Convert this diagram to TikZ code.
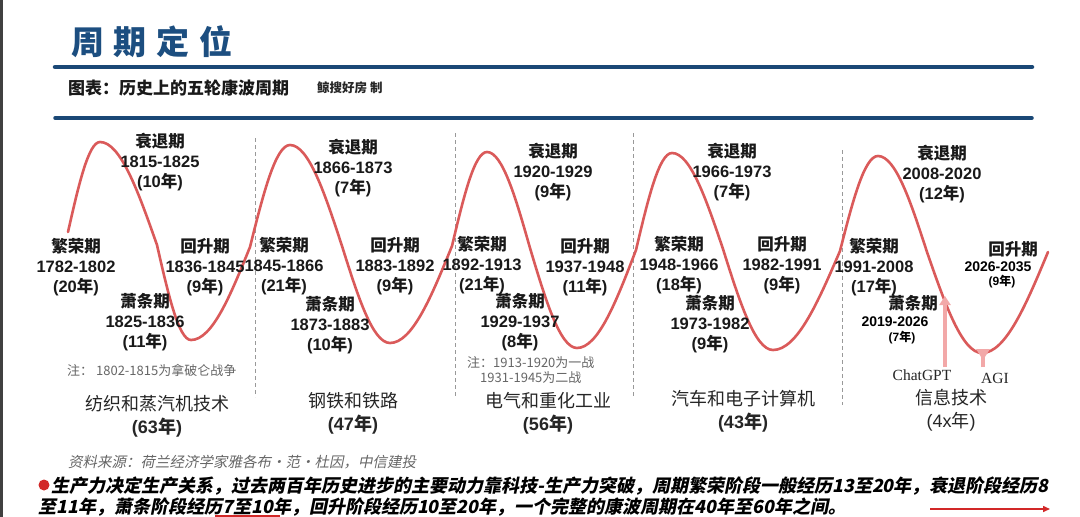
\documentclass[tikz,border=0pt]{standalone}
\usepackage{fontspec}
\setmainfont{Liberation Sans}
\newfontfamily\cjk{Noto Sans CJK SC}
\newfontfamily\cjkit[FakeSlant=0.2]{Noto Sans CJK SC}
\newfontfamily\serifrm{Liberation Serif}
\usetikzlibrary{arrows.meta}
\definecolor{titleblue}{RGB}{28,78,128}
\definecolor{lineblue}{RGB}{26,72,118}
\definecolor{wavered}{RGB}{218,90,90}
\definecolor{pinkc}{RGB}{242,168,168}
\definecolor{bulletred}{RGB}{210,40,40}
\newcommand\phase[3]{{\cjk #1}\\#2\\(#3{\cjk 年})}
\tikzset{
  lab/.style={font=\bfseries\fontsize{16.5}{20}\selectfont, align=center, inner sep=0pt, text=black!90},
  tech/.style={font=\fontsize{18}{23}\selectfont, align=center, inner sep=0pt, text=black!85},
  note/.style={font=\cjk\fontsize{13}{15}\selectfont, text=black!60, inner sep=0pt, anchor=west},
  divider/.style={draw=black!40, line width=0.9pt, dash pattern=on 4pt off 3pt},
  wave/.style={draw=wavered, line width=2.6pt, line cap=round},
  blueline/.style={draw=lineblue, line cap=round},
  marker/.style={draw=pinkc, line width=3.5pt},
}
\begin{document}
\begin{tikzpicture}[x=1pt,y=-1pt]
\useasboundingbox (0,0) rectangle (1080,517);
\fill[white] (0,0) rectangle (1080,517);
\draw[black!75, line width=3pt] (1.5,0) -- (1.5,517);

% header
\node[font=\cjk\bfseries\fontsize{33}{33}\selectfont, text=titleblue, inner sep=0pt] (title) at (152,42) {周\hspace{10pt}期\hspace{10pt}定\hspace{10pt}位};
\coordinate (l1a) at (55,67); \coordinate (l1b) at (1032,67);
\draw[blueline, line width=4.5pt] (l1a) -- (l1b);
\node[font=\cjk\bfseries\fontsize{17}{17}\selectfont, anchor=west, inner sep=0pt, text=black!90] (sub) at (68,88) {图表：历史上的五轮康波周期};
\node[font=\cjk\bfseries\fontsize{12.5}{12.5}\selectfont, anchor=west, inner sep=0pt, text=black!85] (maker) at (317,88) {鲸搜好房 制};
\coordinate (l2a) at (55,118); \coordinate (l2b) at (1032,118);
\draw[blueline, line width=3.5pt] (l2a) -- (l2b);

% dividers
\coordinate (d1a) at (255,138); \coordinate (d1b) at (255,397);
\coordinate (d2a) at (455,133); \coordinate (d2b) at (455,397);
\coordinate (d3a) at (633,133); \coordinate (d3b) at (633,397);
\coordinate (d4a) at (842,150); \coordinate (d4b) at (842,405);
\draw[divider] (d1a) -- (d1b);
\draw[divider] (d2a) -- (d2b);
\draw[divider] (d3a) -- (d3b);
\draw[divider] (d4a) -- (d4b);

% wave
\draw[wave] (68,232) sin (100,142) cos (157,245) sin (191,340) cos (250,247)
  sin (290,145) cos (342,246) sin (390,343) cos (452,246)
  sin (487,152) cos (530,248) sin (577,348) cos (636,250)
  sin (672,153) cos (723,249) sin (773,350) cos (840,251)
  sin (878,156) cos (927,252) sin (982,353) cos (1048,252);

% cycle 1
\node[lab] (c1r) at (160,162) {\phase{衰退期}{1815-1825}{10}};
\node[lab] (c1b) at (76,267) {\phase{繁荣期}{1782-1802}{20}};
\node[lab] (c1d) at (145,322) {\phase{萧条期}{1825-1836}{11}};
\node[lab] (c1u) at (205,267) {\phase{回升期}{1836-1845}{9}};
\node[note] (n1) at (67,370) {注： 1802-1815为拿破仑战争};
\node[tech] (t1) at (157,416.5) {{\cjk 纺织和蒸汽机技术}\\{\bfseries(63{\cjk 年})}};

% cycle 2
\node[lab] (c2r) at (353,168) {\phase{衰退期}{1866-1873}{7}};
\node[lab] (c2b) at (284,266) {\phase{繁荣期}{1845-1866}{21}};
\node[lab] (c2d) at (330,325) {\phase{萧条期}{1873-1883}{10}};
\node[lab] (c2u) at (395,266) {\phase{回升期}{1883-1892}{9}};
\node[tech] (t2) at (353,413) {{\cjk 钢铁和铁路}\\{\bfseries(47{\cjk 年})}};

% cycle 3
\node[lab] (c3r) at (553,172) {\phase{衰退期}{1920-1929}{9}};
\node[lab] (c3b) at (482,265) {\phase{繁荣期}{1892-1913}{21}};
\node[lab] (c3d) at (520,322) {\phase{萧条期}{1929-1937}{8}};
\node[lab] (c3u) at (585,267) {\phase{回升期}{1937-1948}{11}};
\node[note] (n3a) at (467,363) {注：1913-1920为一战};
\node[note] (n3b) at (480,378) {1931-1945为二战};
\node[tech] (t3) at (548,413) {{\cjk 电气和重化工业}\\{\bfseries(56{\cjk 年})}};

% cycle 4
\node[lab] (c4r) at (732,172) {\phase{衰退期}{1966-1973}{7}};
\node[lab] (c4b) at (679,265) {\phase{繁荣期}{1948-1966}{18}};
\node[lab] (c4d) at (710,324) {\phase{萧条期}{1973-1982}{9}};
\node[lab] (c4u) at (782,265) {\phase{回升期}{1982-1991}{9}};
\node[tech] (t4) at (743,411.5) {{\cjk 汽车和电子计算机}\\{\bfseries(43{\cjk 年})}};

% cycle 5
\node[lab] (c5r) at (942,174) {\phase{衰退期}{2008-2020}{12}};
\node[lab] (c5b) at (874,267) {\phase{繁荣期}{1991-2008}{17}};
\node[lab] (c5d) at (913,303) {{\cjk 萧条期}};
\node[font=\bfseries\fontsize{14}{14}\selectfont, inner sep=0pt] (c5dy) at (895,322) {2019-2026};
\node[font=\bfseries\fontsize{12}{12}\selectfont, inner sep=0pt] (c5dn) at (902,338) {(7{\cjk 年})};
\node[lab] (c5u) at (1013,249) {{\cjk 回升期}};
\node[font=\bfseries\fontsize{14}{14}\selectfont, inner sep=0pt] (c5uy) at (998,267) {2026-2035};
\node[font=\bfseries\fontsize{12}{12}\selectfont, inner sep=0pt] (c5un) at (1002,282) {(9{\cjk 年})};
\node[font=\serifrm\fontsize{15.5}{15.5}\selectfont, inner sep=0pt, text=black!85] (gpt) at (922,375) {ChatGPT};
\node[font=\serifrm\fontsize{15.5}{15.5}\selectfont, inner sep=0pt, text=black!85] (agi) at (995,378) {AGI};
\coordinate (gptbase) at (945,367); \coordinate (gpttip) at (945,296);
\draw[marker, -{Triangle[width=11pt,length=9pt]}] (gptbase) -- (gpttip);
\coordinate (agibase) at (983,367); \coordinate (agitop) at (983,355);
\draw[marker] (agibase) -- (agitop);
\fill[pinkc] (976,349) -- (990,349) -- (983,360) -- cycle;
\node[tech] (t5) at (951,410) {{\cjk 信息技术}\\(4x{\cjk 年})};

% footer
\node[font=\cjkit\fontsize{14.5}{14.5}\selectfont, text=black!60, anchor=west, inner sep=0pt] (src) at (68,462) {资料来源：荷兰经济学家雅各布·范·杜因，中信建投};
\fill[bulletred] (44,485) circle (5.5);
\node[font=\cjkit\bfseries\fontsize{18}{18}\selectfont, anchor=west, inner sep=0pt, text=black] (txt1) at (51,486) {生产力决定生产关系，过去两百年历史进步的主要动力靠科技-生产力突破，周期繁荣阶段一般经历13至20年，衰退阶段经历8};
\node[font=\cjkit\bfseries\fontsize{18}{18}\selectfont, anchor=west, inner sep=0pt, text=black] (txt2) at (38,507) {至11年，萧条阶段经历7至10年，回升阶段经历10至20年，一个完整的康波周期在40年至60年之间。};
\coordinate (u1a) at (215,516); \coordinate (u1b) at (280,516);
\draw[bulletred, line width=1.2pt] (u1a) -- (u1b);
\coordinate (ar1) at (930,509); \coordinate (ar2) at (1050,509);
\draw[bulletred, line width=1.5pt, -{Triangle[width=6pt,length=7pt]}] (ar1) -- (ar2);
\end{tikzpicture}
\end{document}
